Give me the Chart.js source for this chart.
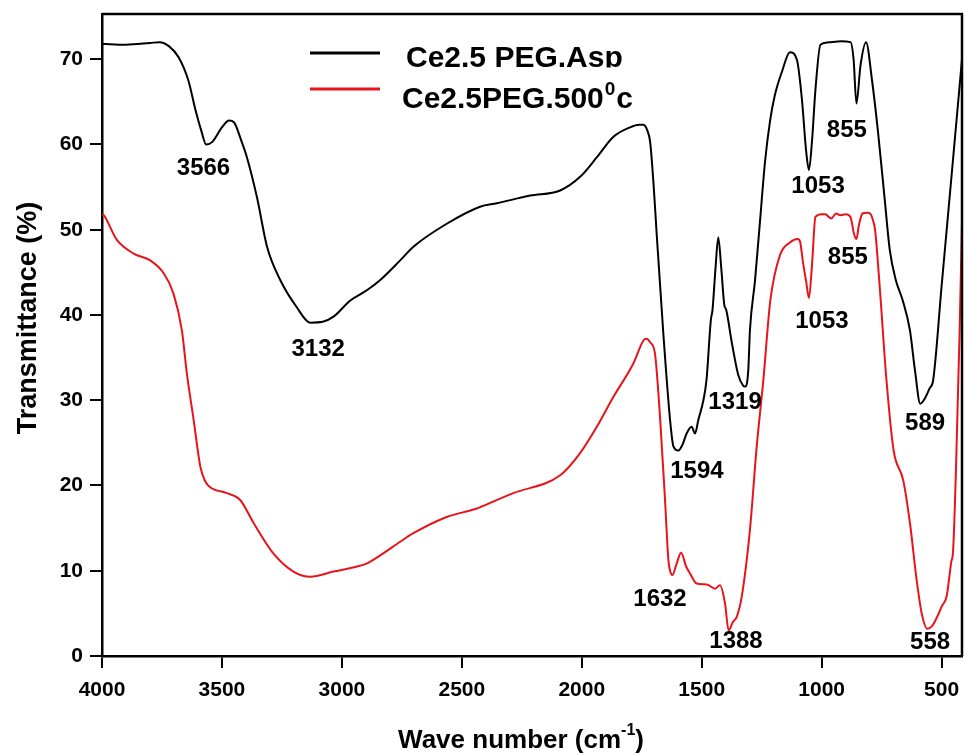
<!DOCTYPE html>
<html>
<head>
<meta charset="utf-8">
<script src="https://cdn.jsdelivr.net/npm/chart.js@4.4.1/dist/chart.umd.min.js"></script>
<style>
  html, body { margin: 0; padding: 0; background: #fff; }
  #wrap { width: 964px; height: 755px; }
</style>
</head>
<body>
<div id="wrap"><canvas id="c" width="964" height="755"></canvas></div>
<script>
// ---- data (wavenumber cm^-1, transmittance %) ----
const xTicks = [4000, 3500, 3000, 2500, 2000, 1500, 1000, 500];
const yTicks = [0, 10, 20, 30, 40, 50, 60, 70];

const seriesNames = ['Ce2.5 PEG.Asp', 'Ce2.5PEG.500', '0', 'c'];

const blackWn = [4000, 3900, 3800, 3760, 3720, 3680, 3640, 3610, 3585, 3566, 3540, 3500, 3470, 3450, 3420, 3396, 3354, 3312, 3257, 3188, 3132, 3080, 3035, 2965, 2896, 2840, 2757, 2702, 2563, 2424, 2354, 2215, 2090, 2007, 1937, 1868, 1799, 1760, 1743, 1725, 1715, 1700, 1688, 1660, 1632, 1618, 1597, 1580, 1563, 1542, 1528, 1514, 1493, 1480, 1462, 1455, 1443, 1431, 1418, 1406, 1398, 1373, 1348, 1327, 1319, 1306, 1299, 1278, 1257, 1236, 1215, 1195, 1166, 1132, 1103, 1082, 1065, 1053, 1040, 1026, 1005, 963, 920, 880, 867, 855, 838, 815, 790, 766, 737, 716, 691, 662, 632, 611, 589, 570, 550, 535, 500, 450, 415];
const blackT  = [71.8, 71.7, 71.9, 72.0, 71.5, 70.2, 67.5, 64.0, 61.5, 60.0, 60.3, 62.0, 62.8, 62.6, 60.5, 58.5, 53.8, 48.0, 44.1, 40.9, 39.1, 39.2, 39.8, 41.7, 42.9, 44.1, 46.4, 48.0, 50.7, 52.7, 53.1, 54.0, 54.6, 56.2, 58.5, 60.9, 62.0, 62.3, 62.3, 61.5, 60.3, 55.0, 49.6, 37.8, 27.7, 24.6, 24.1, 24.8, 26.1, 26.9, 26.1, 27.7, 30.0, 32.4, 39.4, 40.6, 45.3, 49.1, 45.3, 41.2, 40.6, 36.5, 33.0, 31.7, 31.6, 33.5, 38.2, 44.0, 51.0, 58.0, 62.8, 65.8, 68.5, 70.8, 69.9, 65.2, 59.3, 57.0, 60.5, 66.4, 71.7, 72.0, 72.1, 72.0, 70.0, 64.8, 69.3, 72.0, 67.5, 61.7, 53.5, 47.6, 44.1, 41.7, 38.2, 33.5, 29.6, 30.2, 31.4, 32.4, 43.4, 59.0, 70.0];

const redWn = [4000, 3993, 3938, 3868, 3799, 3743, 3702, 3667, 3646, 3618, 3590, 3570, 3549, 3479, 3424, 3368, 3285, 3202, 3132, 3035, 2937, 2900, 2840, 2757, 2702, 2563, 2437, 2420, 2285, 2090, 2007, 1937, 1868, 1785, 1743, 1730, 1715, 1695, 1674, 1653, 1639, 1632, 1622, 1605, 1586, 1565, 1549, 1521, 1479, 1444, 1424, 1403, 1388, 1370, 1354, 1333, 1299, 1271, 1243, 1214, 1174, 1132, 1100, 1090, 1078, 1065, 1053, 1040, 1026, 1000, 985, 960, 940, 922, 900, 880, 865, 855, 845, 830, 810, 798, 785, 777, 757, 730, 700, 660, 632, 604, 583, 560, 540, 515, 500, 479, 460, 452, 440, 425, 415];
const redT  = [51.8, 51.7, 48.8, 47.2, 46.4, 44.9, 42.5, 38.2, 33.1, 27.7, 22.2, 20.5, 19.8, 19.1, 18.3, 15.6, 12.0, 9.9, 9.3, 9.9, 10.5, 10.8, 11.8, 13.4, 14.4, 16.3, 17.3, 17.5, 19.1, 21.2, 23.8, 26.9, 30.4, 34.3, 37.0, 37.2, 36.8, 35.5, 28.1, 18.3, 11.3, 10.0, 9.5, 10.8, 12.1, 10.5, 9.7, 8.5, 8.4, 7.9, 8.3, 6.2, 3.0, 4.0, 4.6, 7.0, 14.8, 24.5, 32.4, 41.7, 47.0, 48.5, 48.9, 48.6, 46.2, 44.0, 42.0, 46.0, 51.5, 51.8, 51.8, 51.3, 51.9, 51.7, 51.8, 51.5, 49.5, 48.9, 50.5, 51.9, 52.0, 51.9, 51.0, 49.9, 42.9, 32.4, 24.1, 20.6, 15.6, 8.9, 5.0, 3.2, 3.5, 4.8, 5.8, 7.0, 11.0, 12.4, 22.0, 38.0, 51.0];

// peak labels: text, wavenumber, transmittance of label centre
const peakText = ['3566', '3132', '1594', '1319', '1053', '855', '1053', '855', '589', '1632', '1388', '558'];
const peakWn   = [3577, 3099, 1520, 1361, 1015, 895, 999, 891, 569, 1674, 1357, 548];
const peakT    = [57.2, 36.0, 21.7, 29.7, 55.1, 61.7, 39.2, 46.7, 27.3, 6.7, 1.7, 1.6];

const FONT = '"Liberation Sans", Arial, Helvetica, sans-serif';

function toPoints(xs, ys) { return xs.map((x, i) => ({ x: x, y: ys[i] })); }

const overlay = {
  id: 'overlay',
  afterDraw(chart) {
    const ctx = chart.ctx;
    const a = chart.chartArea;
    const xs = chart.scales.x, ys = chart.scales.y;
    ctx.save();
    // frame top and right
    ctx.strokeStyle = '#000';
    ctx.lineWidth = 2.5;
    ctx.beginPath();
    ctx.moveTo(a.left, a.top);
    ctx.lineTo(a.right, a.top);
    ctx.lineTo(a.right, a.bottom);
    ctx.stroke();

    // peak labels
    ctx.fillStyle = '#000';
    ctx.font = 'bold 24px ' + FONT;
    ctx.textAlign = 'center';
    ctx.textBaseline = 'middle';
    peakText.forEach((t, i) => {
      ctx.fillText(t, xs.getPixelForValue(peakWn[i]), ys.getPixelForValue(peakT[i]));
    });

    // legend
    ctx.lineWidth = 3;
    ctx.strokeStyle = '#000';
    ctx.beginPath(); ctx.moveTo(310, 53); ctx.lineTo(380, 53); ctx.stroke();
    ctx.strokeStyle = '#e8141b';
    ctx.beginPath(); ctx.moveTo(310, 89); ctx.lineTo(380, 89); ctx.stroke();
    ctx.textAlign = 'left';
    ctx.textBaseline = 'alphabetic';
    ctx.fillStyle = '#000';
    ctx.font = 'bold 30px ' + FONT;
    ctx.save();
    ctx.beginPath(); ctx.rect(395, 20, 300, 47.5); ctx.clip();
    ctx.fillText(seriesNames[0], 406, 67);
    ctx.restore();
    let x0 = 402;
    ctx.fillText(seriesNames[1], x0, 108);
    x0 += ctx.measureText(seriesNames[1]).width + 1;
    ctx.font = 'bold 19px ' + FONT;
    ctx.fillText(seriesNames[2], x0, 95);
    x0 += ctx.measureText(seriesNames[2]).width + 1;
    ctx.font = 'bold 30px ' + FONT;
    ctx.fillText(seriesNames[3], x0, 108);

    // y-axis title
    ctx.save();
    ctx.translate(36, 318);
    ctx.rotate(-Math.PI / 2);
    ctx.font = 'bold 27px ' + FONT;
    ctx.textAlign = 'center';
    ctx.textBaseline = 'alphabetic';
    ctx.fillText('Transmittance (%)', 0, 0);
    ctx.restore();

    // x-axis title with superscript
    const p1 = 'Wave number (cm', sup = '-1', p2 = ')';
    ctx.font = 'bold 26px ' + FONT;
    const w1 = ctx.measureText(p1).width, w3 = ctx.measureText(p2).width;
    ctx.font = 'bold 16px ' + FONT;
    const w2 = ctx.measureText(sup).width;
    let tx = 521 - (w1 + w2 + w3) / 2;
    const base = 748;
    ctx.font = 'bold 26px ' + FONT;
    ctx.fillText(p1, tx, base); tx += w1;
    ctx.font = 'bold 16px ' + FONT;
    ctx.fillText(sup, tx, base - 13); tx += w2;
    ctx.font = 'bold 26px ' + FONT;
    ctx.fillText(p2, tx, base);
    ctx.restore();
  }
};

const tickFont = { family: FONT, weight: 'bold', size: 21 };

new Chart(document.getElementById('c'), {
  type: 'line',
  data: {
    datasets: [
      { label: seriesNames[0], data: toPoints(blackWn, blackT), borderColor: '#000', borderWidth: 2, pointRadius: 0, cubicInterpolationMode: 'monotone', fill: false },
      { label: seriesNames[1] + seriesNames[2] + seriesNames[3], data: toPoints(redWn, redT), borderColor: '#e8141b', borderWidth: 2, pointRadius: 0, cubicInterpolationMode: 'monotone', fill: false }
    ]
  },
  options: {
    responsive: false,
    animation: false,
    devicePixelRatio: 1,
    layout: { padding: { left: 0, right: 2, top: 14, bottom: 0 } },
    plugins: { legend: { display: false }, tooltip: { enabled: false } },
    scales: {
      x: {
        type: 'linear', reverse: true, min: 415, max: 4000,
        afterBuildTicks: s => { s.ticks = xTicks.map(v => ({ value: v })); },
        afterFit: s => { s.height = 99; s.paddingLeft = 0; s.paddingRight = 0; },
        ticks: { color: '#000', font: tickFont, padding: 10, maxRotation: 0, autoSkip: false, callback: v => String(v) },
        grid: { drawOnChartArea: false, drawTicks: true, tickLength: 12, color: '#000', lineWidth: 2 },
        border: { display: true, color: '#000', width: 2.5 }
      },
      y: {
        type: 'linear', min: 0, max: 75.3,
        afterBuildTicks: s => { s.ticks = yTicks.map(v => ({ value: v })); },
        afterFit: s => { s.width = 102; s.paddingTop = 0; s.paddingBottom = 0; },
        ticks: { color: '#000', font: tickFont, padding: 7, callback: v => String(v) },
        grid: { drawOnChartArea: false, drawTicks: true, tickLength: 12, color: '#000', lineWidth: 2 },
        border: { display: true, color: '#000', width: 2.5 }
      }
    }
  },
  plugins: [overlay]
});
</script>
</body>
</html>
